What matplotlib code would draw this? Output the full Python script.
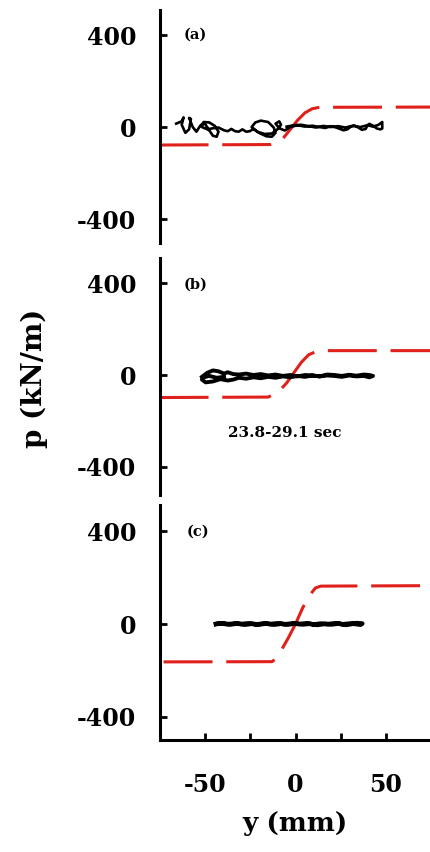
import matplotlib
matplotlib.use("Agg")
import matplotlib.pyplot as plt

# red dashed p-y backbone curves, one per panel
red_y_a = [-73, -13, -10, -6, -2, 2, 6, 10, 14, 75]
red_p_a = [-78, -76, -66, -50, -10, 30, 62, 80, 86, 87]
red_y_b = [-73, -14, -12, -8, -4, 0, 4, 8, 12, 16, 75]
red_p_b = [-98, -96, -88, -70, -35, 10, 55, 88, 102, 106, 106]
red_y_c = [-73, -13, -11, -8, -4, 0, 4, 8, 11, 14, 75]
red_p_c = [-163, -162, -150, -115, -60, 0, 70, 125, 155, 163, 165]

# black measured traces
blk_y_a = [-64, -61, -60, -61, -59, -57, -56, -57, -55, -53, -51, -49, -48, -46, -44, -42, -41,
           -43, -46, -49, -50, -47, -44, -41, -38, -36, -34, -32, -30, -28, -26, -24, -22, -19,
           -15, -12, -10, -11, -14, -18, -21, -23, -20, -16, -12, -9, -7, -8, -10, -8, -5, -2,
           2, 6, 10, 14, 17, 20, 23, 25, 27, 29, 31, 33, 35, 37, 39, 40, 41, 43, 45, 47, 48,
           48, 46, 43, 40, 36, 32, 28, 24, 20, 16, 12, 8, 4, 0, -4]
blk_p_a = [15, 25, 42, 10, -25, -10, 35, 40, 0, -20, 5, 20, 10, -15, -38, -42, -20,
           5, 20, 22, 0, -10, -5, -2, -14, -18, -8, -18, -20, -10, -20, -18, -8, -25,
           -40, -42, -25, -2, 22, 28, 20, 0, -20, -30, -28, -10, 10, 25, 15, -5, -15, 0,
           8, 2, 6, 0, -4, 4, -2, -8, -14, -10, 2, 6, -2, -12, -8, 8, 14, 6, -6, -10, -6,
           22, 10, 2, 8, 0, 6, -2, 4, 0, 5, -2, 4, 10, 8, 2]
blk_y_b = [-50, -47, -44, -41, -38, -36, -33, -30, -26, -22, -18, -14, -10, -6, -2, 2, 6, 10, 14,
           18, 22, 26, 30, 34, 38, 41, 43, 41, 38, 34, 30, 26, 22, 18, 14, 10, 6, 2, -2, -6,
           -10, -14, -18, -22, -26, -30, -33, -36, -40, -44, -48, -50, -49, -46, -42, -38]
blk_p_b = [-8, 10, 20, 16, 6, 12, 4, 2, 6, 0, 4, -2, 2, -4, 0, -6, 0, -2, -6,
           -2, -4, -8, -2, -6, -4, -10, -4, 0, 2, -3, 1, -4, 0, 2, -6, -2, -8, -4, -10, -6,
           -12, -8, -14, -10, -16, -12, -20, -24, -18, -28, -32, -20, -10, -4, -12, -8]
blk_y_c = [-44, -40, -36, -32, -28, -24, -20, -16, -12, -8, -4, 0, 4, 8, 12, 16, 20, 24, 28, 32,
           36, 37, 34, 30, 26, 22, 18, 14, 10, 6, 2, -2, -6, -10, -14, -18, -22, -26, -30, -34,
           -38, -42, -44]
blk_p_c = [0, 3, -2, 2, -3, 1, -2, 2, -3, 1, -2, 2, -2, 1, -4, 0, -2, 2, -4, 1,
           -3, 2, 4, 2, -1, 3, 0, 2, -2, 3, 0, 2, -1, 3, 0, 2, -2, 3, 0, 2,
           -1, 3, 0]

panel_tags = ["(a)", "(b)", "(c)"]
tag_p = [400, 391, 396]
yticks = [-400, 0, 400]
xticks = [-75, -50, -25, 0, 25, 50, 75]
xticklabels = ["", "-50", "", "0", "", "50", ""]

W, H = 431, 852
fig = plt.figure(figsize=(W / 100, H / 100), dpi=100)

# (top px, bottom px, ylim)
boxes = [(10, 243, (-504, 509)), (258, 495, (-522, 509)), (505, 740, (-499, 512))]
reds = [(red_y_a, red_p_a), (red_y_b, red_p_b), (red_y_c, red_p_c)]
blks = [(blk_y_a, blk_p_a), (blk_y_b, blk_p_b), (blk_y_c, blk_p_c)]
blk_lw = [1.9, 2.8, 3.2]

serif = "DejaVu Serif"
left = 160
for i, (top, bot, ylim) in enumerate(boxes):
    ax = fig.add_axes([left / W, 1 - bot / H, (W - left) / W, (bot - top) / H])
    ax.plot(reds[i][0], reds[i][1], color="#e0201b", lw=2.2, dashes=(16, 4.5), zorder=2)
    ax.plot(blks[i][0], blks[i][1], color="black", lw=blk_lw[i], zorder=3)
    ax.set_xlim(-72.8, 74.5)
    ax.set_ylim(*ylim)
    for s in ["top", "right"]:
        ax.spines[s].set_visible(False)
    ax.spines["left"].set_linewidth(2.2)
    ax.set_yticks(yticks)
    ax.set_yticklabels([str(t) for t in yticks], fontfamily=serif, fontweight="bold", fontsize=17)
    ax.tick_params(axis="y", direction="in", length=5, width=2, pad=17)
    ax.text(-60, tag_p[i], panel_tags[i], fontfamily=serif, fontweight="bold", fontsize=10.5,
            va="center", ha="left")
    if i < 2:
        ax.spines["bottom"].set_visible(False)
        ax.set_xticks([])
    else:
        ax.spines["bottom"].set_linewidth(2.2)
        ax.set_xticks(xticks)
        ax.set_xticklabels(xticklabels, fontfamily=serif, fontweight="bold", fontsize=17)
        ax.tick_params(axis="x", direction="in", length=5, width=2, pad=24)
        ax.set_xlabel("y (mm)", fontfamily=serif, fontweight="bold", fontsize=19, labelpad=10)
    if i == 1:
        ax.text(-5, -252, "23.8-29.1 sec", fontfamily=serif, fontweight="bold", fontsize=11,
                ha="center", va="center")

fig.text(34 / W, 1 - 378 / H, "p (kN/m)", rotation=90, fontfamily=serif, fontweight="bold",
         fontsize=20, ha="center", va="center")

fig.savefig("out.png", dpi=100)
